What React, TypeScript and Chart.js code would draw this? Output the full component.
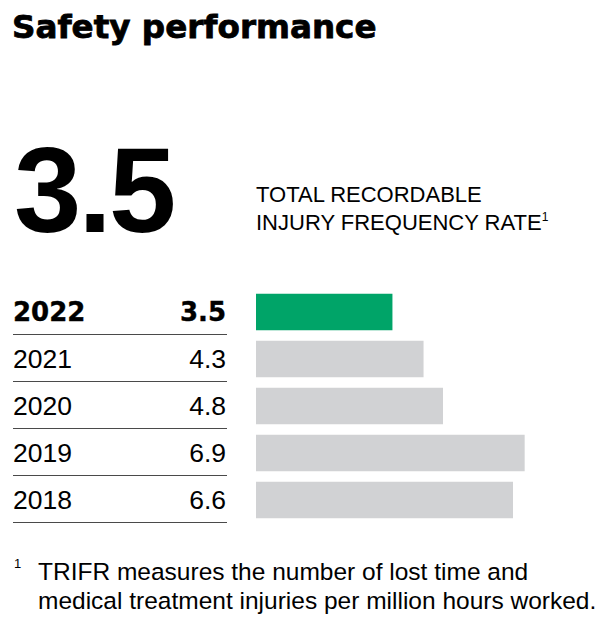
import React, { useEffect, useRef } from "react";
import { Chart, registerables } from "chart.js";

Chart.register(...registerables);

// ---- data ----
const years: string[] = ["2022", "2021", "2020", "2019", "2018"];
const trifr: number[] = [3.5, 4.3, 4.8, 6.9, 6.6];
const highlightYear = "2022";
const axisMin = 0;
const axisMax = 9;

const titleText = "Safety performance";
const metricLines: string[] = ["TOTAL RECORDABLE", "INJURY FREQUENCY RATE"];
const footnoteMark = "1";
const footnoteLines: string[] = [
  "TRIFR measures the number of lost time and",
  "medical treatment injuries per million hours worked.",
];

const GREEN = "#00a468";
const GREY = "#d1d2d4";
const SANS = "'Liberation Sans', Arial, Helvetica, sans-serif";
const HEAVY = "'DejaVu Sans', 'Liberation Sans', sans-serif";

const ROW_TOP = 288; // top of the first category band (canvas top)
const ROW_H = 47;

export default function App() {
  const canvasRef = useRef<HTMLCanvasElement | null>(null);

  useEffect(() => {
    if (!canvasRef.current) return;
    const chart = new Chart(canvasRef.current, {
      type: "bar",
      data: {
        labels: years,
        datasets: [
          {
            data: trifr,
            backgroundColor: years.map((y) => (y === highlightYear ? GREEN : GREY)),
            borderWidth: 0,
            barThickness: 36,
          },
        ],
      },
      options: {
        indexAxis: "y",
        responsive: false,
        maintainAspectRatio: false,
        animation: false,
        devicePixelRatio: 1,
        layout: { padding: { top: 0.5, bottom: 0.5, left: 0, right: 0 } },
        scales: {
          x: { display: false, min: axisMin, max: axisMax, grid: { display: false } },
          y: { display: false, grid: { display: false } },
        },
        plugins: {
          legend: { display: false },
          tooltip: { enabled: false },
        },
      },
    });
    return () => chart.destroy();
  }, []);

  const headline = trifr[years.indexOf(highlightYear)].toFixed(1);

  return (
    <div
      style={{
        position: "absolute",
        left: 0,
        top: 0,
        width: 614,
        height: 622,
        background: "#fff",
        color: "#000",
        fontFamily: SANS,
        overflow: "hidden",
      }}
    >
      {/* title */}
      <div
        style={{
          position: "absolute",
          left: 12,
          top: 11,
          fontFamily: HEAVY,
          fontWeight: 700,
          fontSize: 32.6,
          lineHeight: "32.6px",
          WebkitTextStroke: "0.8px #000",
          whiteSpace: "nowrap",
        }}
      >
        {titleText}
      </div>

      {/* headline value */}
      <div
        style={{
          position: "absolute",
          left: 14,
          top: 130,
          fontWeight: 700,
          fontSize: 121,
          lineHeight: "121px",
          letterSpacing: -3,
          whiteSpace: "nowrap",
        }}
      >
        {headline}
      </div>

      {/* metric label */}
      <div
        style={{
          position: "absolute",
          left: 256,
          top: 181,
          fontSize: 22,
          lineHeight: "28px",
          whiteSpace: "nowrap",
        }}
      >
        <div>{metricLines[0]}</div>
        <div>
          {metricLines[1]}
          <span style={{ fontSize: 12, position: "relative", top: -9, lineHeight: 0 }}>
            {footnoteMark}
          </span>
        </div>
      </div>

      {/* table rows */}
      {years.map((y, i) => {
        const center = ROW_TOP + 0.5 + ROW_H * i + ROW_H / 2;
        const bold = y === highlightYear;
        const fs = bold ? 26 : 26.5;
        const baseline = center + 9;
        const top = baseline - 0.846 * fs;
        return (
          <React.Fragment key={y}>
            <div
              style={{
                position: "absolute",
                left: 13,
                width: 213,
                top,
                fontFamily: bold ? HEAVY : SANS,
                fontWeight: bold ? 700 : 400,
                fontSize: fs,
                lineHeight: `${fs}px`,
                WebkitTextStroke: bold ? "0.4px #000" : undefined,
                display: "flex",
                justifyContent: "space-between",
                whiteSpace: "nowrap",
              }}
            >
              <span>{y}</span>
              <span>{trifr[i].toFixed(1)}</span>
            </div>
            <div
              style={{
                position: "absolute",
                left: 13,
                width: 214,
                top: Math.floor(center + 22),
                height: 1,
                background: "#4a4a4a",
              }}
            />
          </React.Fragment>
        );
      })}

      {/* bars */}
      <canvas
        ref={canvasRef}
        width={350}
        height={236}
        style={{ position: "absolute", left: 256, top: ROW_TOP, width: 350, height: 236 }}
      />

      {/* footnote */}
      <div
        style={{
          position: "absolute",
          left: 14,
          top: 557,
          fontSize: 13,
          lineHeight: "13px",
        }}
      >
        {footnoteMark}
      </div>
      <div
        style={{
          position: "absolute",
          left: 38,
          top: 557,
          fontSize: 24.5,
          lineHeight: "29px",
          whiteSpace: "nowrap",
        }}
      >
        {footnoteLines.map((l) => (
          <div key={l}>{l}</div>
        ))}
      </div>
    </div>
  );
}
